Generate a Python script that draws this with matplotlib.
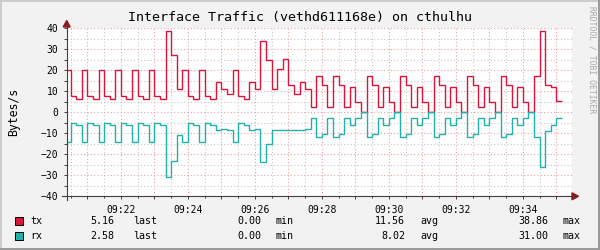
import numpy as np
import matplotlib

matplotlib.use("Agg")
import matplotlib.pyplot as plt
from matplotlib.lines import Line2D
from matplotlib.patches import Polygon, Rectangle

# sample times: seconds after 09:20:00, one value every 10 s
STEP_START = 20
STEP_LEN = 10

tx = [
    20.0, 7.6, 6.3, 20.0, 7.6, 6.3, 20.0, 7.6, 6.3, 20.0,
    7.6, 6.3, 20.0, 7.6, 6.3, 20.0, 7.6, 6.3, 38.5, 27.1,
    11.0, 20.0, 7.6, 6.3, 20.0, 7.6, 6.3, 14.3, 11.0, 8.6,
    20.0, 7.6, 6.3, 14.3, 11.0, 34.0, 24.9, 11.0, 20.6, 25.2,
    13.2, 8.6, 14.3, 11.0, 2.5, 17.5, 13.2, 2.5, 17.5, 13.2,
    2.5, 11.9, 5.1, 0.0, 17.5, 13.2, 2.5, 11.9, 5.1, 0.0,
    17.5, 13.2, 2.5, 11.9, 5.1, 0.0, 17.5, 13.2, 2.5, 11.9,
    5.1, 0.0, 17.5, 13.2, 2.5, 11.9, 5.1, 0.0, 17.5, 13.2,
    2.5, 11.9, 5.1, 0.0, 17.5, 38.86, 13.2, 11.9, 5.16,
]

rx = [
    14.3, 5.1, 6.2, 14.3, 5.1, 6.2, 14.3, 5.1, 6.2, 14.3,
    5.1, 6.2, 14.3, 5.1, 6.2, 14.3, 5.1, 6.2, 31.0, 23.3,
    11.0, 14.3, 4.9, 6.0, 14.3, 4.9, 6.0, 8.6, 8.1, 8.6,
    14.3, 4.9, 6.0, 8.6, 8.1, 23.7, 15.0, 8.3, 8.6, 8.6,
    8.3, 8.6, 8.6, 8.1, 2.58, 11.9, 10.3, 2.58, 11.9, 10.3,
    2.58, 6.0, 2.58, 0.0, 11.9, 10.3, 2.58, 6.0, 2.58, 0.0,
    11.9, 10.3, 2.58, 6.0, 2.58, 0.0, 11.9, 10.3, 2.58, 6.0,
    2.58, 0.0, 11.9, 10.3, 2.58, 6.0, 2.58, 0.0, 11.9, 10.3,
    2.58, 6.0, 2.58, 0.0, 11.9, 26.2, 9.0, 6.0, 2.58,
]

minute_ticks = [60, 120, 180, 240, 300, 360, 420, 480, 540, 600,
                660, 720, 780, 840, 900]
minute_labels = ["", "09:22", "", "09:24", "", "09:26", "", "09:28", "",
                 "09:30", "", "09:32", "", "09:34", ""]

series_names = ["tx", "rx"]
stat_names = ["last", "min", "avg", "max"]
tx_stats = [5.16, 0.00, 11.56, 38.86]
rx_stats = [2.58, 0.00, 8.02, 31.00]

TX_COLOR = "#dc143c"
RX_COLOR = "#20b2aa"
MONO = "DejaVu Sans Mono"
W, H = 600, 250


def px(x, y):
    """Pixel position (from top left) to figure fraction."""
    return x / W, 1 - y / H


fig = plt.figure(figsize=(6, 2.5), dpi=100, facecolor="#f2f2f2")

left, right, top, bottom = 66.7, 572.0, 28.3, 196.3
ax = fig.add_axes([left / W, 1 - bottom / H, (right - left) / W, (bottom - top) / H])
ax.set_facecolor("white")
ax.set_xlim(23, 928)
ax.set_ylim(-40, 40)

edges = STEP_START + STEP_LEN * np.arange(len(tx) + 1)
ax.stairs(tx, edges, baseline=None, color=TX_COLOR, linewidth=1.0, zorder=3)
ax.stairs(np.negative(rx), edges, baseline=None, color=RX_COLOR, linewidth=1.0, zorder=3)

ax.set_xticks(minute_ticks)
ax.set_xticklabels(minute_labels)
ax.set_xticks(np.arange(30, 928, 60), minor=True)
ax.set_yticks(np.arange(-40, 41, 10))
ax.set_yticks(np.arange(-35, 40, 10), minor=True)

ax.grid(which="major", color="#f0a0a0", linestyle=(0, (1, 2)), linewidth=0.8)
ax.grid(which="minor", color="#c8c8c8", linestyle=(0, (1, 2)), linewidth=0.8)
ax.set_axisbelow(True)

for spine in ax.spines.values():
    spine.set_visible(False)

ax.tick_params(which="both", direction="out", length=2.5, width=0.7,
               color="#404040", labelsize=7, labelcolor="#000000", pad=3.5)
ax.tick_params(axis="x", which="minor", length=1.5)
for label in ax.get_xticklabels() + ax.get_yticklabels():
    label.set_family(MONO)

# axis lines with arrow heads
axis_color = "#404040"
arrow_color = "#8b1a1a"
fig.add_artist(Line2D(*zip(px(62, bottom), px(574, bottom)),
                      color=axis_color, linewidth=0.8))
fig.add_artist(Line2D(*zip(px(left, 200), px(left, 24)),
                      color=axis_color, linewidth=0.8))
fig.add_artist(Polygon([px(572, 192.8), px(572, 199.8), px(578.5, 196.3)],
                       closed=True, color=arrow_color))
fig.add_artist(Polygon([px(63.2, 27), px(70.2, 27), px(left, 20.5)],
                       closed=True, color=arrow_color))

# texts
fig.text(*px(300, 18), "Interface Traffic (vethd611168e) on cthulhu",
         ha="center", va="center", fontsize=9.6, family=MONO)
fig.text(*px(14, 112), "Bytes/s", rotation=90, ha="center", va="center",
         fontsize=8.3, family=MONO)
fig.text(*px(592, 60), "RRDTOOL / TOBI OETIKER", rotation=270,
         ha="center", va="center", fontsize=5.8, family=MONO, color="#a8a8a8")

# legend
value_right = [114, 261, 405, 548.5]
name_left = [133, 275, 420, 562.6]
rows = [(221, series_names[0], TX_COLOR, tx_stats),
        (236, series_names[1], RX_COLOR, rx_stats)]
for y, name, color, stats in rows:
    bx, by = px(15, y + 4)
    fig.add_artist(Rectangle((bx, by), 8 / W, 8 / H, facecolor=color,
                             edgecolor="black", linewidth=0.7))
    fig.text(*px(30.6, y), name, ha="left", va="center", fontsize=7.2, family=MONO)
    for value, xr, stat, xl in zip(stats, value_right, stat_names, name_left):
        fig.text(*px(xr, y), f"{value:.2f}", ha="right", va="center",
                 fontsize=7.2, family=MONO)
        fig.text(*px(xl, y), stat, ha="left", va="center", fontsize=7.2, family=MONO)

# frame around the image
fig.add_artist(Line2D(*zip(px(0, 0.7), px(600, 0.7)), color="#cbcbcb", linewidth=1.4))
fig.add_artist(Line2D(*zip(px(0.7, 0), px(0.7, 250)), color="#cbcbcb", linewidth=1.4))
fig.add_artist(Line2D(*zip(px(0, 249.3), px(600, 249.3)), color="#999999", linewidth=1.4))
fig.add_artist(Line2D(*zip(px(599.3, 0), px(599.3, 250)), color="#999999", linewidth=1.4))

fig.savefig("out.png", dpi=100, facecolor=fig.get_facecolor())
